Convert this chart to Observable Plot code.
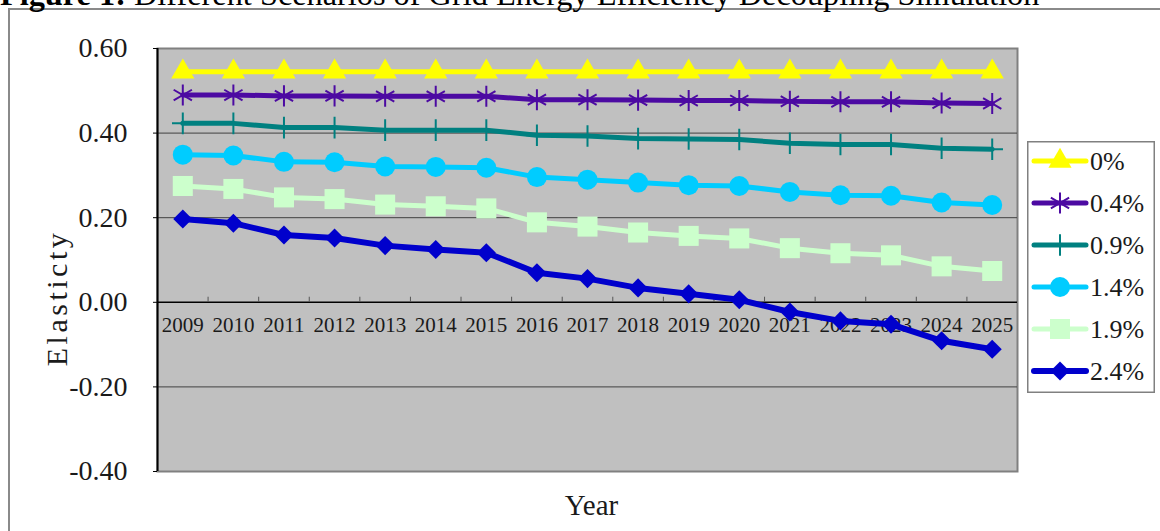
<!DOCTYPE html>
<html>
<head>
<meta charset="utf-8">
<script src="https://cdn.jsdelivr.net/npm/d3@7"></script>
<script src="https://cdn.jsdelivr.net/npm/@observablehq/plot@0.6"></script>
<style>
  html, body { margin: 0; padding: 0; background: #fff; overflow: hidden; }
  #wrap { position: relative; width: 1160px; height: 531px; overflow: hidden; font-family: "Liberation Serif", serif; }
  #frame { position: absolute; left: 8px; top: 8px; width: 1200px; height: 600px; border-left: 2px solid #8a8a8a; border-top: 2px solid #8a8a8a; pointer-events: none; }
  #chart { position: absolute; left: 0; top: 0; }
  #titleSvg { position: absolute; left: 0; top: 0; }
  #legend { position: absolute; left: 1027px; top: 141px; }
</style>
</head>
<body>
<div id="wrap">
  <div id="chart"></div>
  <div id="frame"></div>
  <svg id="titleSvg" width="1160" height="12"></svg>
  <svg id="legend" width="128" height="252"></svg>
</div>
<script>
// ---- data ----
const years = [2009, 2010, 2011, 2012, 2013, 2014, 2015, 2016, 2017, 2018, 2019, 2020, 2021, 2022, 2023, 2024, 2025];
const seriesNames = ["0%", "0.4%", "0.9%", "1.4%", "1.9%", "2.4%"];
const s00 = [0.545, 0.545, 0.545, 0.545, 0.545, 0.545, 0.545, 0.545, 0.545, 0.545, 0.545, 0.545, 0.545, 0.545, 0.545, 0.545, 0.545];
const s04 = [0.490, 0.490, 0.488, 0.488, 0.487, 0.487, 0.487, 0.479, 0.479, 0.478, 0.477, 0.477, 0.475, 0.474, 0.474, 0.471, 0.470];
const s09 = [0.423, 0.423, 0.413, 0.413, 0.407, 0.407, 0.407, 0.395, 0.393, 0.387, 0.386, 0.385, 0.376, 0.373, 0.373, 0.364, 0.362];
const s14 = [0.349, 0.347, 0.332, 0.331, 0.321, 0.320, 0.318, 0.296, 0.290, 0.283, 0.277, 0.275, 0.261, 0.253, 0.252, 0.236, 0.230];
const s19 = [0.275, 0.268, 0.248, 0.244, 0.231, 0.227, 0.222, 0.189, 0.179, 0.165, 0.157, 0.151, 0.128, 0.116, 0.111, 0.085, 0.074];
const s24 = [0.197, 0.187, 0.159, 0.152, 0.134, 0.125, 0.117, 0.070, 0.056, 0.034, 0.020, 0.006, -0.023, -0.044, -0.052, -0.091, -0.111];
const yTicks = [-0.4, -0.2, 0.0, 0.2, 0.4, 0.6];
const gridValues = [0.4, 0.2, -0.2];
const titleBold = "Figure 1:";
const titleRest = " Different Scenarios of Grid Energy Efficiency Decoupling Simulation";
const xLabel = "Year";
const yLabel = "Elasticty";

// ---- styles per series ----
const styles = [
  { color: "#ffff00", symbol: "triangle", d3sym: d3.symbolTriangle, r: 8.6, filled: true, width: 5 },
  { color: "#4c0aa2", symbol: "asterisk", d3sym: d3.symbolAsterisk, r: 10, filled: false, width: 5 },
  { color: "#008080", symbol: "plus", d3sym: d3.symbolPlus, r: 7, filled: false, width: 5 },
  { color: "#00ccff", symbol: "circle", d3sym: d3.symbolCircle, r: 10, filled: true, width: 5 },
  { color: "#ccffcc", symbol: "square", d3sym: d3.symbolSquare, r: 11.3, filled: true, width: 5 },
  { color: "#0000cc", symbol: "diamond2", d3sym: d3.symbolDiamond2, r: 8.6, filled: true, width: 6 }
];
const seriesValues = [s00, s04, s09, s14, s19, s24];

const rowsBySeries = seriesValues.map((vals, k) =>
  years.map((yr, i) => ({ year: yr, value: vals[i], series: seriesNames[k] })));
const bounds = years.slice(1).map(y => y - 0.5);

const seriesMarks = [];
rowsBySeries.forEach((rows, k) => {
  const st = styles[k];
  seriesMarks.push(Plot.line(rows, { x: "year", y: "value", stroke: st.color, strokeWidth: st.width, strokeLinejoin: "round", strokeLinecap: "round" }));
  seriesMarks.push(Plot.dot(rows, {
    x: "year", y: "value", symbol: () => st.symbol, r: st.r,
    fill: st.filled ? st.color : "none",
    stroke: st.filled ? "none" : st.color,
    strokeWidth: st.filled ? 0 : 2
  }));
});

const chart = Plot.plot({
  width: 1160,
  height: 531,
  marginLeft: 157,
  marginRight: 143,
  marginTop: 48,
  marginBottom: 60,
  x: { domain: [years[0] - 0.5, years[years.length - 1] + 0.5], axis: null },
  y: { domain: [yTicks[0], yTicks[yTicks.length - 1]], axis: null },
  symbol: { type: "identity" },
  style: { fontFamily: "'Liberation Serif', serif", background: "transparent", color: "#1a1a1a" },
  marks: [
    Plot.frame({ fill: "#c0c0c0", stroke: "#808080", strokeWidth: 2 }),
    Plot.ruleY(gridValues, { stroke: "#404040", strokeWidth: 1 }),
    Plot.ruleY([0], { stroke: "#000", strokeWidth: 1.5 }),
    Plot.ruleX([years[0] - 0.5], { stroke: "#000", strokeWidth: 2 }),
    Plot.ruleX(bounds, { x: d => d, y1: 0, y2: 0.012, stroke: "#555", strokeWidth: 1 }),
    Plot.text(years, { x: d => d, y: 0, dy: 23, text: d => String(d), fontSize: 21 }),
    Plot.axisY({ ticks: yTicks, tickFormat: d => d.toFixed(2), tickSize: 4, tickPadding: 26, fontSize: 28, label: null, stroke: "#000" }),
    ...seriesMarks,
    Plot.text([yLabel], { frameAnchor: "left", textAnchor: "middle", lineAnchor: "middle", dx: -100, dy: 38, rotate: -90, fontSize: 30 }),
    Plot.text([xLabel], { frameAnchor: "bottom", textAnchor: "middle", lineAnchor: "middle", dx: 4, dy: 34, fontSize: 29 })
  ]
});
document.getElementById("chart").appendChild(chart);
d3.select(chart).selectAll("text").filter(function () { return this.textContent === yLabel; })
  .style("letter-spacing", "3.5px");

// ---- title (clipped at top as in reference) ----
const tsvg = d3.select("#titleSvg");
const ttext = tsvg.append("text").attr("x", 0).attr("y", 5)
  .attr("font-family", "'Liberation Serif', serif").attr("font-size", 26).attr("fill", "#000");
ttext.append("tspan").attr("font-weight", "bold").text(titleBold);
ttext.append("tspan").text(titleRest);
const tw = ttext.node().getComputedTextLength();
ttext.attr("font-size", 26 * 1040 / tw);

// ---- legend ----
const leg = d3.select("#legend");
leg.append("rect").attr("x", 0.75).attr("y", 0.75).attr("width", 126.5).attr("height", 250.5)
  .attr("fill", "#fff").attr("stroke", "#808080").attr("stroke-width", 1.5);
seriesNames.forEach((name, k) => {
  const st = styles[k];
  const cy = 20 + k * 42;
  const g = leg.append("g");
  g.append("line").attr("x1", 7).attr("x2", 59).attr("y1", cy).attr("y2", cy)
    .attr("stroke", st.color).attr("stroke-width", st.width).attr("stroke-linecap", "round");
  g.append("path").attr("transform", `translate(33,${cy})`)
    .attr("d", d3.symbol().type(st.d3sym).size(st.r * st.r * Math.PI)())
    .attr("fill", st.filled ? st.color : "none")
    .attr("stroke", st.filled ? "none" : st.color)
    .attr("stroke-width", st.filled ? 0 : 2);
  g.append("text").attr("x", 63).attr("y", cy).attr("dy", "0.35em")
    .attr("font-family", "'Liberation Serif', serif").attr("font-size", 26).attr("fill", "#1a1a1a")
    .text(name);
});
</script>
</body>
</html>
